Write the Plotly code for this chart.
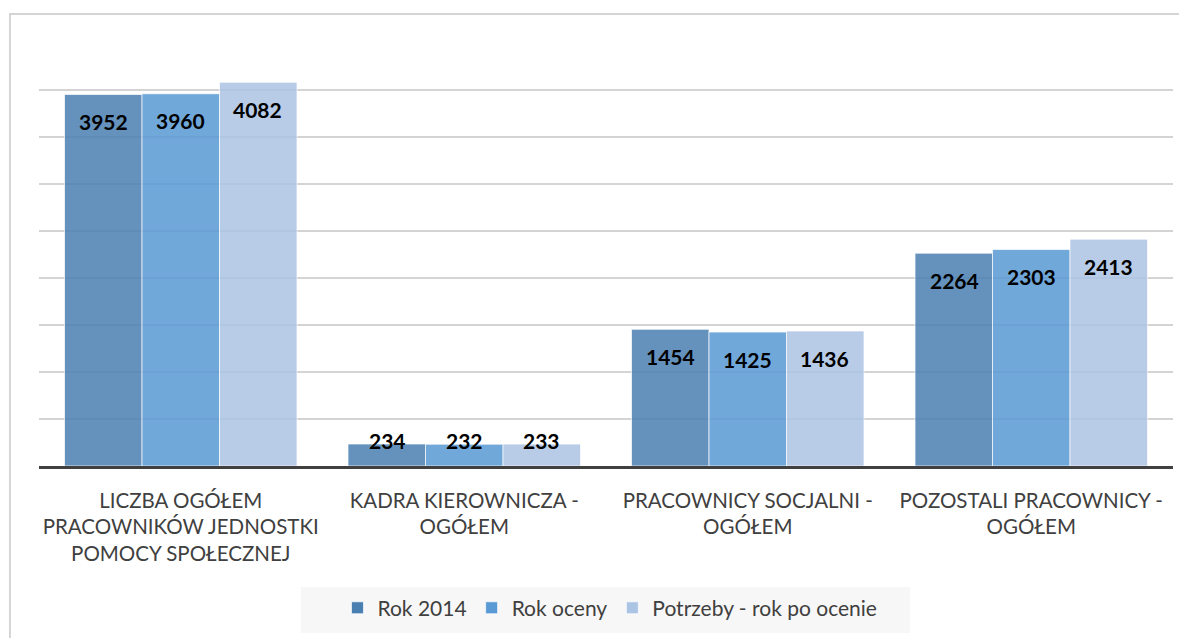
import plotly.graph_objects as go

categories = [
    "LICZBA OGÓŁEM<br>PRACOWNIKÓW JEDNOSTKI<br>POMOCY SPOŁECZNEJ",
    "KADRA KIEROWNICZA -<br>OGÓŁEM",
    "PRACOWNICY SOCJALNI -<br>OGÓŁEM",
    "POZOSTALI PRACOWNICY -<br>OGÓŁEM",
]
series_names = ["Rok 2014", "Rok oceny", "Potrzeby - rok po ocenie"]
rok_2014 = [3952, 234, 1454, 2264]
rok_oceny = [3960, 232, 1425, 2303]
potrzeby = [4082, 233, 1436, 2413]

COLORS = ["#4a7fb2", "#5999d4", "#acc4e4"]
FONT = "Lato, Open Sans, sans-serif"
BAR_PX = 77  # approx pixel width of one bar, used to shift labels

fig = go.Figure()
for name, vals, col in zip(series_names, [rok_2014, rok_oceny, potrzeby], COLORS):
    fig.add_trace(go.Bar(
        name=name, x=categories, y=vals,
        marker=dict(color=col, opacity=0.85,
                    line=dict(color="rgba(255,255,255,0.7)", width=1)),
    ))

# data labels: inside end for tall bars, straddling the top for short ones
for i, vals in enumerate([rok_2014, rok_oceny, potrzeby]):
    for cat, v in zip(categories, vals):
        fig.add_annotation(
            x=cat, y=v, text=f"<b>{v}</b>", showarrow=False,
            xshift=(i - 1) * BAR_PX, yshift=-27 if v > 600 else 4,
            font=dict(family=FONT, size=21, color="#000000"),
        )

# chart frame (partly outside the page, like the source)
fig.add_shape(type="rect", xref="paper", yref="paper",
              x0=-0.0256, x1=1.03, y0=-0.45, y1=1.0686,
              line=dict(color="#c8c8c8", width=1.5), layer="below")
# grey legend panel
fig.add_shape(type="rect", xref="paper", yref="paper",
              x0=0.231, x1=0.768, y0=-0.395, y1=-0.286,
              fillcolor="#f7f7f7", line=dict(width=0), layer="below")

# page body adds an 8px offset, so the figure is a bit smaller than the window
fig.update_layout(
    width=1179, height=630,
    paper_bgcolor="white", plot_bgcolor="white",
    margin=dict(l=31, r=14, t=35, b=172, autoexpand=False),
    barmode="group", bargap=0.18, bargroupgap=0,
    font=dict(family=FONT, color="#404040", size=20),
    showlegend=True,
    legend=dict(orientation="h", x=0.5035, xanchor="center", y=-0.336, yanchor="middle",
                bgcolor="rgba(0,0,0,0)", font=dict(size=21, color="#404040"),
                traceorder="normal"),
)
fig.update_xaxes(showline=True, linecolor="#404040", linewidth=3,
                 ticks="", ticklabelstandoff=14,
                 tickfont=dict(family=FONT, size=20.5, color="#404040"))
fig.update_yaxes(range=[0, 4500], dtick=500, showticklabels=False,
                 showgrid=True, gridcolor="#d4d4d4", gridwidth=1.5, zeroline=False)

fig.write_html("out.html")
